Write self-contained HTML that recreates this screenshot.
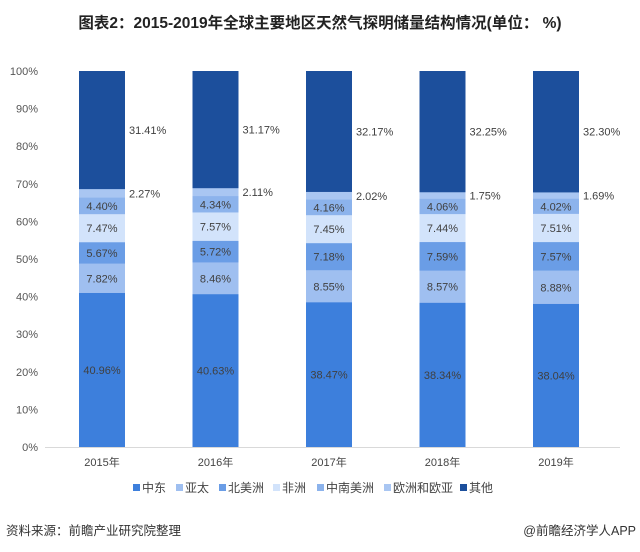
<!DOCTYPE html>
<html><head><meta charset="utf-8"><style>
body{margin:0;background:#fff;}
svg{display:block;font-family:"Liberation Sans","Noto Sans CJK SC",sans-serif;}
</style></head><body>
<svg width="640" height="552" viewBox="0 0 640 552" xmlns="http://www.w3.org/2000/svg">
<text x="320" y="28" text-anchor="middle" font-size="15.5" font-weight="bold" fill="#222">图表2：2015-2019年全球主要地区天然气探明储量结构情况(单位： %)</text>
<g font-size="11" fill="#555" text-anchor="end">
<text x="38" y="75">100%</text><text x="38" y="112.6">90%</text><text x="38" y="150.2">80%</text><text x="38" y="187.8">70%</text><text x="38" y="225.4">60%</text><text x="38" y="263">50%</text><text x="38" y="300.6">40%</text><text x="38" y="338.2">30%</text><text x="38" y="375.8">20%</text><text x="38" y="413.4">10%</text><text x="38" y="451">0%</text>
</g>
<line x1="45" y1="447.5" x2="620" y2="447.5" stroke="#d9d9d9" stroke-width="1"/>

<!-- 2015 -->
<g>
<rect x="79" y="71" width="46" height="376" fill="#1c4f9c"/>
<rect x="79" y="189.1" width="46" height="257.9" fill="#a9c6f2"/>
<rect x="79" y="197.64" width="46" height="249.36" fill="#8cb3ec"/>
<rect x="79" y="214.18" width="46" height="232.82" fill="#d2e3fb"/>
<rect x="79" y="242.27" width="46" height="204.73" fill="#6a9de6"/>
<rect x="79" y="263.59" width="46" height="183.41" fill="#9fbff0"/>
<rect x="79" y="292.99" width="46" height="154.01" fill="#3d7fdc"/>
</g>
<!-- 2016 -->
<g>
<rect x="192.5" y="71" width="46" height="376" fill="#1c4f9c"/>
<rect x="192.5" y="188.2" width="46" height="258.8" fill="#a9c6f2"/>
<rect x="192.5" y="196.13" width="46" height="250.87" fill="#8cb3ec"/>
<rect x="192.5" y="212.45" width="46" height="234.55" fill="#d2e3fb"/>
<rect x="192.5" y="240.91" width="46" height="206.09" fill="#6a9de6"/>
<rect x="192.5" y="262.42" width="46" height="184.58" fill="#9fbff0"/>
<rect x="192.5" y="294.23" width="46" height="152.77" fill="#3d7fdc"/>
</g>
<!-- 2017 -->
<g>
<rect x="306" y="71" width="46" height="376" fill="#1c4f9c"/>
<rect x="306" y="191.95" width="46" height="255.05" fill="#a9c6f2"/>
<rect x="306" y="199.55" width="46" height="247.45" fill="#8cb3ec"/>
<rect x="306" y="215.19" width="46" height="231.81" fill="#d2e3fb"/>
<rect x="306" y="243.2" width="46" height="203.8" fill="#6a9de6"/>
<rect x="306" y="270.2" width="46" height="176.8" fill="#9fbff0"/>
<rect x="306" y="302.35" width="46" height="144.65" fill="#3d7fdc"/>
</g>
<!-- 2018 -->
<g>
<rect x="419.5" y="71" width="46" height="376" fill="#1c4f9c"/>
<rect x="419.5" y="192.26" width="46" height="254.74" fill="#a9c6f2"/>
<rect x="419.5" y="198.84" width="46" height="248.16" fill="#8cb3ec"/>
<rect x="419.5" y="214.11" width="46" height="232.89" fill="#d2e3fb"/>
<rect x="419.5" y="242.08" width="46" height="204.92" fill="#6a9de6"/>
<rect x="419.5" y="270.62" width="46" height="176.38" fill="#9fbff0"/>
<rect x="419.5" y="302.84" width="46" height="144.16" fill="#3d7fdc"/>
</g>
<!-- 2019 -->
<g>
<rect x="533" y="71" width="46" height="376" fill="#1c4f9c"/>
<rect x="533" y="192.41" width="46" height="254.59" fill="#a9c6f2"/>
<rect x="533" y="198.76" width="46" height="248.24" fill="#8cb3ec"/>
<rect x="533" y="213.88" width="46" height="233.12" fill="#d2e3fb"/>
<rect x="533" y="242.12" width="46" height="204.88" fill="#6a9de6"/>
<rect x="533" y="270.58" width="46" height="176.42" fill="#9fbff0"/>
<rect x="533" y="303.97" width="46" height="143.03" fill="#3d7fdc"/>
</g>

<g font-size="11" fill="#404040" text-anchor="middle">
<text x="102" y="374">40.96%</text><text x="102" y="282.3">7.82%</text><text x="102" y="256.9">5.67%</text><text x="102" y="232.2">7.47%</text><text x="102" y="209.9">4.40%</text>
<text x="215.5" y="374.6">40.63%</text><text x="215.5" y="282.3">8.46%</text><text x="215.5" y="255.7">5.72%</text><text x="215.5" y="230.7">7.57%</text><text x="215.5" y="208.3">4.34%</text>
<text x="329" y="378.7">38.47%</text><text x="329" y="290.3">8.55%</text><text x="329" y="260.7">7.18%</text><text x="329" y="233.2">7.45%</text><text x="329" y="211.4">4.16%</text>
<text x="442.5" y="378.9">38.34%</text><text x="442.5" y="290.7">8.57%</text><text x="442.5" y="260.4">7.59%</text><text x="442.5" y="232.1">7.44%</text><text x="442.5" y="210.5">4.06%</text>
<text x="556" y="379.5">38.04%</text><text x="556" y="291.3">8.88%</text><text x="556" y="260.3">7.57%</text><text x="556" y="232">7.51%</text><text x="556" y="210.3">4.02%</text>
</g>
<g font-size="11" fill="#404040">
<text x="129" y="197.4">2.27%</text><text x="129" y="134">31.41%</text>
<text x="242.5" y="196.2">2.11%</text><text x="242.5" y="133.6">31.17%</text>
<text x="356" y="199.8">2.02%</text><text x="356" y="135.5">32.17%</text>
<text x="469.5" y="199.6">1.75%</text><text x="469.5" y="135.6">32.25%</text>
<text x="583" y="199.6">1.69%</text><text x="583" y="135.7">32.30%</text>
</g>

<g font-size="11" fill="#444" text-anchor="middle">
<text x="102" y="466">2015年</text><text x="215.5" y="466">2016年</text><text x="329" y="466">2017年</text><text x="442.5" y="466">2018年</text><text x="556" y="466">2019年</text>
</g>
<g font-size="12" fill="#444">
<rect x="133" y="484" width="7" height="7" fill="#3d7fdc"/><text x="142" y="492">中东</text>
<rect x="176" y="484" width="7" height="7" fill="#9fbff0"/><text x="185" y="492">亚太</text>
<rect x="219" y="484" width="7" height="7" fill="#6a9de6"/><text x="228" y="492">北美洲</text>
<rect x="273" y="484" width="7" height="7" fill="#d2e3fb"/><text x="282" y="492">非洲</text>
<rect x="317" y="484" width="7" height="7" fill="#8cb3ec"/><text x="326" y="492">中南美洲</text>
<rect x="384" y="484" width="7" height="7" fill="#a9c6f2"/><text x="393" y="492">欧洲和欧亚</text>
<rect x="460" y="484" width="7" height="7" fill="#1c4f9c"/><text x="469" y="492">其他</text>
</g>
<text x="6" y="535" font-size="12.5" fill="#333">资料来源：前瞻产业研究院整理</text>
<text x="636" y="535" font-size="12.5" fill="#333" text-anchor="end">@前瞻经济学人APP</text>
</svg>
</body></html>
